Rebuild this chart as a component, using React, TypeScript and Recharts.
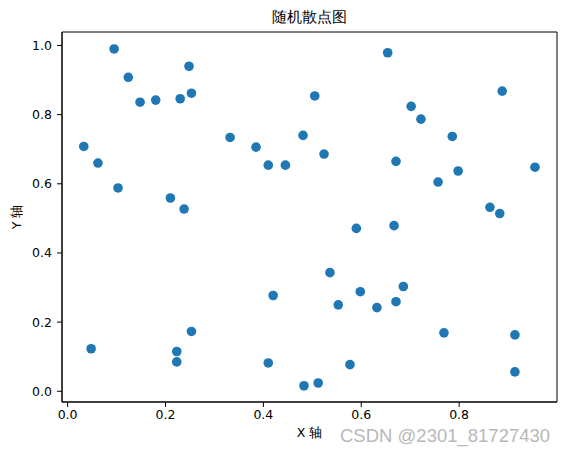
import React from 'react';
import { ScatterChart, Scatter, XAxis, YAxis, ReferenceArea } from 'recharts';

const xValues = [
  0.033, 0.062, 0.095, 0.103, 0.124, 0.148, 0.180, 0.210, 0.230, 0.238,
  0.248, 0.253, 0.048, 0.223, 0.223, 0.253, 0.332, 0.385, 0.410, 0.445,
  0.410, 0.420, 0.481, 0.505, 0.524, 0.483, 0.512, 0.536, 0.553, 0.577,
  0.590, 0.598, 0.632, 0.654, 0.671, 0.671, 0.667, 0.686, 0.702, 0.722,
  0.757, 0.769, 0.786, 0.798, 0.863, 0.883, 0.888, 0.914, 0.914, 0.955,
];
const yValues = [
  0.708, 0.660, 0.990, 0.588, 0.908, 0.836, 0.842, 0.559, 0.846, 0.527,
  0.940, 0.862, 0.123, 0.115, 0.085, 0.173, 0.734, 0.706, 0.654, 0.654,
  0.082, 0.277, 0.740, 0.854, 0.686, 0.016, 0.024, 0.343, 0.250, 0.077,
  0.471, 0.288, 0.242, 0.979, 0.259, 0.665, 0.479, 0.303, 0.824, 0.787,
  0.605, 0.169, 0.737, 0.637, 0.532, 0.514, 0.868, 0.163, 0.056, 0.648,
];
const xTicks = [0, 0.2, 0.4, 0.6, 0.8];
const yTicks = [0, 0.2, 0.4, 0.6, 0.8, 1.0];

const title = '随机散点图';
const xLabel = 'X 轴';
const yLabel = 'Y 轴';
const watermark = 'CSDN @2301_81727430';

const data = xValues.map((x, i) => ({ x, y: yValues[i] }));

const X_DOMAIN: [number, number] = [-0.0115, 1.0];
const Y_DOMAIN: [number, number] = [-0.031, 1.039];

const FONT = '"DejaVu Sans", sans-serif';

const Dot = (props: any) => (
  <circle cx={props.cx} cy={props.cy} r={4.8} fill="#1f77b4" />
);

export default function App() {
  return (
    <div style={{ position: 'absolute', left: 0, top: 0, width: 567, height: 455, background: '#fff', fontFamily: FONT }}>
      <ScatterChart
        width={567}
        height={455}
        margin={{ top: 32, right: 10, bottom: 0, left: 0 }}
      >
        <XAxis
          type="number"
          dataKey="x"
          domain={X_DOMAIN}
          ticks={xTicks}
          allowDataOverflow
          tickFormatter={(v: number) => v.toFixed(1)}
          height={53}
          tickSize={5}
          tickMargin={3}
          stroke="#000"
          axisLine={{ stroke: '#000', strokeWidth: 1 }}
          tickLine={{ stroke: '#000', strokeWidth: 1 }}
          tick={{ fill: '#000', fontSize: 12.5, fontFamily: FONT }}
        />
        <YAxis
          type="number"
          dataKey="y"
          domain={Y_DOMAIN}
          ticks={yTicks}
          allowDataOverflow
          tickFormatter={(v: number) => v.toFixed(1)}
          width={62}
          tickSize={5}
          tickMargin={5}
          stroke="#000"
          axisLine={{ stroke: '#000', strokeWidth: 1 }}
          tickLine={{ stroke: '#000', strokeWidth: 1 }}
          tick={{ fill: '#000', fontSize: 12.5, fontFamily: FONT }}
        />
        <ReferenceArea
          x1={X_DOMAIN[0]}
          x2={X_DOMAIN[1]}
          y1={Y_DOMAIN[0]}
          y2={Y_DOMAIN[1]}
          fill="none"
          fillOpacity={0}
          stroke="#000"
          strokeWidth={1}
          ifOverflow="visible"
        />
        <Scatter data={data} shape={Dot} isAnimationActive={false} />
      </ScatterChart>
      <div style={{ position: 'absolute', left: 0, width: 619, top: 8, textAlign: 'center', fontSize: 15, lineHeight: '18px', color: '#000' }}>
        {title}
      </div>
      <div style={{ position: 'absolute', left: 0, width: 619, top: 425, textAlign: 'center', fontSize: 12.5, lineHeight: '16px', color: '#000' }}>
        {xLabel}
      </div>
      <div style={{ position: 'absolute', left: 17, top: 217, width: 0, height: 0 }}>
        <div style={{ position: 'absolute', left: -40, top: -8, width: 80, textAlign: 'center', fontSize: 12.5, lineHeight: '16px', color: '#000', transform: 'rotate(-90deg)' }}>
          {yLabel}
        </div>
      </div>
      <div style={{ position: 'absolute', left: 340, top: 425, fontSize: 18.5, lineHeight: '22px', color: '#b8b8b8', fontFamily: '"Liberation Sans", Arial, sans-serif', whiteSpace: 'nowrap' }}>
        {watermark}
      </div>
    </div>
  );
}
